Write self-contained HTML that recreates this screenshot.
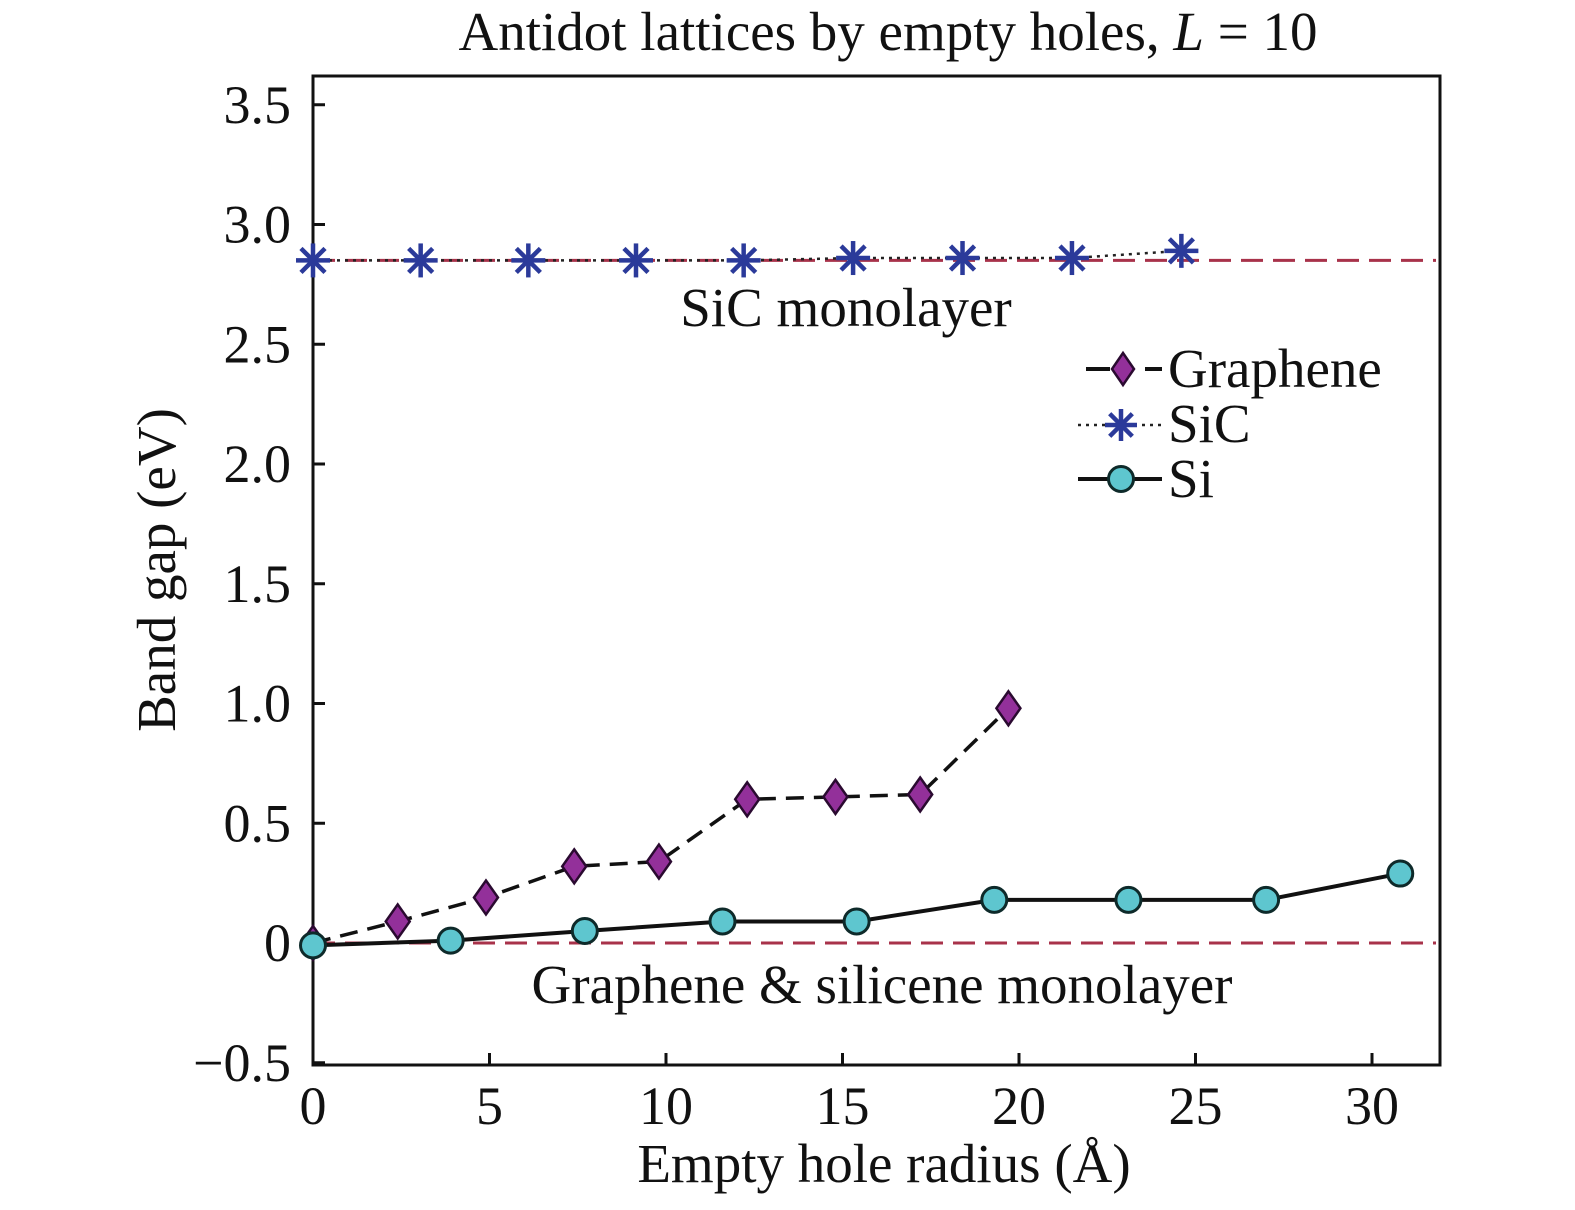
<!DOCTYPE html>
<html><head><meta charset="utf-8"><style>
body{margin:0;background:#fff}
text{font-family:"Liberation Serif",serif;fill:#111}
</style></head><body>
<svg id="c" width="1575" height="1205" xmlns="http://www.w3.org/2000/svg"></svg>
<script>
const xTicks=[0,5,10,15,20,25,30];
const yTicks=[-0.5,0,0.5,1.0,1.5,2.0,2.5,3.0,3.5];
const yTickLabels=["\u22120.5","0","0.5","1.0","1.5","2.0","2.5","3.0","3.5"];
const grapheneX=[0,2.4,4.9,7.4,9.8,12.3,14.8,17.2,19.7];
const grapheneY=[0,0.09,0.19,0.32,0.34,0.6,0.61,0.62,0.98];
const sicX=[0,3.05,6.1,9.15,12.2,15.3,18.4,21.5,24.6];
const sicY=[2.85,2.85,2.85,2.85,2.85,2.86,2.86,2.86,2.89];
const siX=[0,3.9,7.7,11.6,15.4,19.3,23.1,27,30.8];
const siY=[-0.01,0.01,0.05,0.09,0.09,0.18,0.18,0.18,0.29];
const refLevels=[2.85,0];

const svg=document.getElementById('c');const NS="http://www.w3.org/2000/svg";
const L=313,R=1440,T=76,B=1065;
const sx=v=>L+v*35.3, sy=v=>943-v*239.5;
function mk(t,a,p){const e=document.createElementNS(NS,t);for(const k in a)e.setAttribute(k,a[k]);(p||svg).appendChild(e);return e;}
function txt(s,x,y,sz,anchor,extra){const e=mk('text',Object.assign({x:x,y:y,'font-size':sz,'text-anchor':anchor||'middle'},extra||{}));e.textContent=s;return e;}

let e=txt('Antidot lattices by empty holes, ',888,50,55,'middle');


const ts=mk('tspan',{'font-style':'italic'},e);ts.textContent='L';
const ts2=mk('tspan',{},e);ts2.textContent=' = 10';

e=mk('rect',{x:L,y:T,width:R-L,height:B-T,fill:'none',stroke:'#111','stroke-width':3});



xTicks.forEach(v=>{
 const l=mk('line',{x1:sx(v),x2:sx(v),y1:B,y2:B-12,stroke:'#111','stroke-width':3});
 
 
 const t=txt(String(v),sx(v),1124,54,'middle');
 
 
});
yTicks.forEach((v,i)=>{
 const l=mk('line',{x1:L,x2:L+12,y1:sy(v),y2:sy(v),stroke:'#111','stroke-width':3});
 
 
 const t=txt(yTickLabels[i],291,sy(v)+18,54,'end');
 
 
});
e=txt('Empty hole radius (Å)',884,1182,55,'middle');


e=txt('Band gap (eV)',0,0,55,'middle',{transform:'translate(175,570) rotate(-90)'});



refLevels.forEach(v=>{
 const l=mk('line',{x1:L,x2:R-4,y1:sy(v),y2:sy(v),stroke:'#a8324a','stroke-width':3,'stroke-dasharray':'22,10'});
 
 
});
e=txt('SiC monolayer',846,326,55,'middle');


e=txt('Graphene & silicene monolayer',882,1003,55,'middle');



function pts(xs,ys){return xs.map((x,i)=>sx(x)+','+sy(ys[i])).join(' ');}
e=mk('polyline',{points:pts(sicX,sicY),fill:'none',stroke:'#222','stroke-width':2.5,'stroke-dasharray':'3,5'});


e=mk('polyline',{points:pts(grapheneX,grapheneY),fill:'none',stroke:'#111','stroke-width':3.5,'stroke-dasharray':'18,10'});


e=mk('polyline',{points:pts(siX,siY),fill:'none',stroke:'#111','stroke-width':4});



function star(x,y,r){const g=mk('g',{stroke:'#2b3a9a','stroke-width':4.5});
 for(let k=0;k<4;k++){const a=k*Math.PI/4;mk('line',{x1:x-r*Math.cos(a),y1:y-r*Math.sin(a),x2:x+r*Math.cos(a),y2:y+r*Math.sin(a)},g);}return g;}
function diamond(x,y){return mk('polygon',{points:`${x},${y-17} ${x+12},${y} ${x},${y+17} ${x-12},${y}`,fill:'#93309a',stroke:'#2a0a30','stroke-width':2.5});}
function circ(x,y){return mk('circle',{cx:x,cy:y,r:12.5,fill:'#5ec6cf',stroke:'#0e2a2a','stroke-width':3});}
sicX.forEach((x,i)=>{const g=star(sx(x),sy(sicY[i]),17);
 
 });
grapheneX.forEach((x,i)=>{const g=diamond(sx(x),sy(grapheneY[i]));
 
 });
siX.forEach((x,i)=>{const g=circ(sx(x),sy(siY[i]));
 
 });

// legend
const lg=mk('g',{});


mk('line',{x1:1086,x2:1110,y1:369,y2:369,stroke:'#111','stroke-width':4},lg);
mk('line',{x1:1145,x2:1162,y1:369,y2:369,stroke:'#111','stroke-width':4},lg);
mk('polygon',{points:'1123,353 1134,369 1123,385 1112,369',fill:'#93309a',stroke:'#2a0a30','stroke-width':2.5},lg);
let t=txt('Graphene',1168,387,55,'start');lg.appendChild(t);


mk('line',{x1:1078,x2:1162,y1:425,y2:425,stroke:'#222','stroke-width':2.5,'stroke-dasharray':'3,5'},lg);
const s=star(1121,425,16);lg.appendChild(s);
t=txt('SiC',1168,442,55,'start');lg.appendChild(t);


mk('line',{x1:1078,x2:1162,y1:479,y2:479,stroke:'#111','stroke-width':4},lg);
const c=circ(1121,479);lg.appendChild(c);
t=txt('Si',1168,497,55,'start');lg.appendChild(t);


</script>
</body></html>
